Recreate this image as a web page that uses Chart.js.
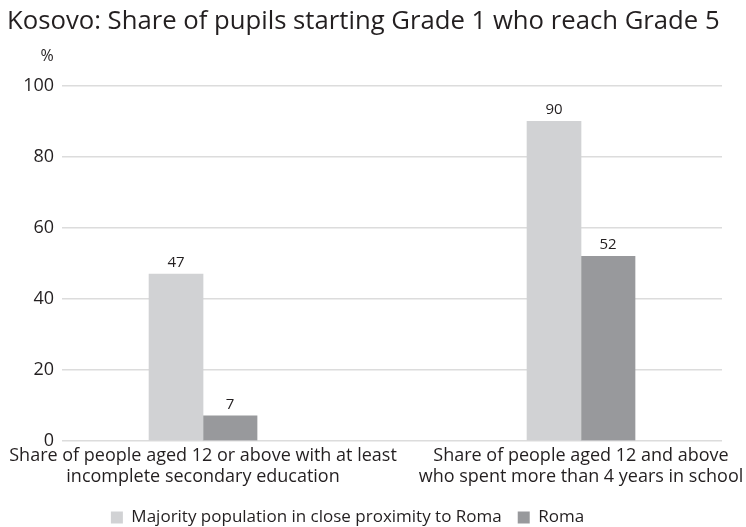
<!DOCTYPE html>
<html>
<head>
<meta charset="utf-8">
<script src="https://cdn.jsdelivr.net/npm/chart.js@4/dist/chart.umd.min.js"></script>
<style>
  html, body { margin: 0; padding: 0; background: #fff; }
  #wrap { width: 746px; height: 527px; }
</style>
</head>
<body>
<div id="wrap"><canvas id="myChart"></canvas></div>
<script>
"use strict"

// DATA
const categories = [
    ['Share of people aged 12 or above with at least', 'incomplete secondary education'],
    ['Share of people aged 12 and above', 'who spent more than 4 years in school']
];
const majority = [47, 90];
const roma = [7, 52];
const seriesNames = ['Majority population in close proximity to Roma', 'Roma'];
const yTicks = [0, 20, 40, 60, 80, 100];
const yUnit = '%';

const FONT = '"Open Sans", "Noto Sans", sans-serif';
const TEXT = '#231f20';

// turn values into {x, y} points so the bars sit on a linear x scale
function points(arr) {
    return arr.map((v, i) => ({ x: i, y: v }));
}

// draws the value over each bar and the unit over the y axis
const labelsPlugin = {
    id: 'barValues',
    afterLayout(chart) {
        // legend sits a bit left of centre in the original
        chart.legend.left -= 17;
        chart.legend.right -= 17;
    },
    afterDatasetsDraw(chart) {
        const ctx = chart.ctx;
        ctx.save();
        ctx.fillStyle = TEXT;
        ctx.font = '15px ' + FONT;
        ctx.textAlign = 'center';
        ctx.textBaseline = 'alphabetic';
        chart.data.datasets.forEach((ds, di) => {
            chart.getDatasetMeta(di).data.forEach((bar, i) => {
                ctx.fillText(ds.data[i].y, bar.x, bar.y - 7);
            });
        });
        // unit
        const y = chart.scales.y;
        ctx.font = '16px ' + FONT;
        ctx.fillText(yUnit, y.right - 15, y.top - 25);
        ctx.restore();
    }
};

const data = {
    datasets: [{
        label: seriesNames[0],
        backgroundColor: '#d1d2d4',
        data: points(majority)
    }, {
        label: seriesNames[1],
        backgroundColor: '#98999c',
        data: points(roma)
    }]
};

const config = {
    type: 'bar',
    data: data,
    options: {
        responsive: true,
        maintainAspectRatio: false,
        animation: false,
        barThickness: 54,
        layout: { padding: { left: 7, right: 24, top: 0, bottom: -9 } },
        scales: {
            x: {
                type: 'linear',
                offset: false,
                min: -0.373,
                max: 1.373,
                afterBuildTicks: (axis) => {
                    axis.ticks = categories.map((c, i) => ({ value: i }));
                },
                afterFit: (axis) => { axis.height += 9; },
                grid: { display: false },
                border: { display: false },
                ticks: {
                    autoSkip: false,
                    maxRotation: 0,
                    padding: -4,
                    color: TEXT,
                    font: { family: FONT, size: 18, lineHeight: 1.2 },
                    callback: (v) => categories[v]
                }
            },
            y: {
                min: 0,
                max: 100,
                afterBuildTicks: (axis) => {
                    axis.ticks = yTicks.map(v => ({ value: v }));
                },
                afterFit: (axis) => { axis.width = 55; },
                grid: { color: '#dcdcdc', lineWidth: 1.5, drawTicks: false },
                border: { display: false },
                ticks: {
                    padding: 8,
                    color: TEXT,
                    font: { family: FONT, size: 18 }
                }
            }
        },
        plugins: {
            title: {
                display: true,
                align: 'start',
                text: 'Kosovo: Share of pupils starting Grade 1 who reach Grade 5',
                color: TEXT,
                font: { family: FONT, size: 25.7, weight: 'normal' },
                padding: { top: 6, bottom: 49 }
            },
            legend: {
                position: 'bottom',
                labels: {
                    color: TEXT,
                    boxWidth: 12,
                    boxHeight: 12,
                    padding: 16,
                    font: { family: FONT, size: 17 }
                }
            },
            tooltip: { enabled: false }
        }
    },
    plugins: [labelsPlugin]
};

//  intialize Chart
const myChart = new Chart(
    document.getElementById('myChart'),
    config
);
</script>
</body>
</html>
